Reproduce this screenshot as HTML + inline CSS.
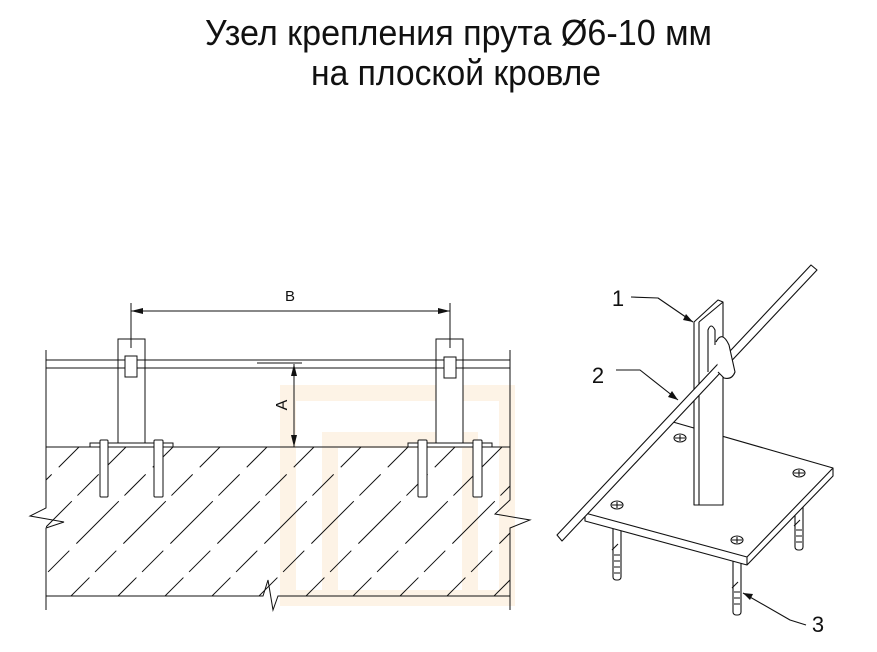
<!DOCTYPE html>
<html><head><meta charset="utf-8"><style>body{margin:0;background:#fff}svg{display:block}</style></head><body>
<svg width="877" height="652" viewBox="0 0 877 652" xmlns="http://www.w3.org/2000/svg" font-family="'Liberation Sans', 'DejaVu Sans', sans-serif">
<rect width="877" height="652" fill="#fff"/>
<text x="205" y="45" font-size="36" textLength="507" lengthAdjust="spacingAndGlyphs" fill="#111">Узел крепления прута Ø6-10 мм</text>
<text x="311" y="85" font-size="36" textLength="290" lengthAdjust="spacingAndGlyphs" fill="#111">на плоской кровле</text>

<!-- watermark -->
<g fill="none" stroke="#fdf3e6" stroke-width="16">
<rect x="288" y="393" width="219" height="205"/>
<path d="M330 598 V440 H470 V598"/>
</g>

<defs>
<clipPath id="slab"><rect x="46" y="447" width="464" height="149"/></clipPath>
<marker id="ar" markerWidth="12" markerHeight="6" refX="12" refY="3" orient="auto-start-reverse" markerUnits="userSpaceOnUse"><path d="M0 0 L12 3 L0 6z" fill="#111"/></marker>
</defs>

<g stroke="#111" stroke-width="1" fill="none">
<g clip-path="url(#slab)" stroke-dasharray="60 8 30 10">
<path d="M0 620 L200 420 M47 620 L247 420 M94 620 L294 420 M141 620 L341 420 M188 620 L388 420 M235 620 L435 420 M282 620 L482 420 M329 620 L529 420 M376 620 L576 420 M423 620 L623 420 M470 620 L670 420 M517 620 L717 420 M-47 620 L153 420 M-94 620 L106 420"/>
</g>
<path d="M46 350 V508 L30 516 L64 522 L46 528 V610"/>
<path d="M510 350 V500 L495 514 L530 520 L510 528 V610"/>
<line x1="46" y1="447" x2="510" y2="447"/>
<path d="M46 596 H263 L268 580 L273 610 L278 596 H510"/>
<line x1="46" y1="360" x2="510" y2="360"/>
<line x1="46" y1="368" x2="510" y2="368"/>
<rect x="118" y="339" width="27" height="108" fill="#fff"/>
<rect x="436" y="339" width="27" height="108" fill="#fff"/>
<line x1="118" y1="360" x2="145" y2="360"/><line x1="118" y1="368" x2="145" y2="368"/>
<line x1="436" y1="360" x2="463" y2="360"/><line x1="436" y1="368" x2="463" y2="368"/>
<rect x="125" y="356" width="12" height="21" fill="#fff"/>
<rect x="444" y="357" width="12" height="21" fill="#fff"/>
<rect x="90" y="443" width="83" height="4" fill="#fff"/>
<rect x="408" y="443" width="84" height="4" fill="#fff"/>
<rect x="100" y="440" width="8" height="57" rx="1" fill="#fff"/>
<rect x="154" y="440" width="9" height="57" rx="1" fill="#fff"/>
<rect x="418" y="440" width="9" height="57" rx="1" fill="#fff"/>
<rect x="473" y="440" width="9" height="57" rx="1" fill="#fff"/>
<line x1="131" y1="303" x2="131" y2="348"/>
<line x1="450" y1="303" x2="450" y2="348"/>
<line x1="131" y1="311" x2="450" y2="311" marker-start="url(#ar)" marker-end="url(#ar)"/>
<line x1="257" y1="363" x2="302" y2="363"/>
<line x1="294" y1="364" x2="294" y2="447" marker-start="url(#ar)" marker-end="url(#ar)"/>
</g>
<text x="290" y="301" font-size="15" text-anchor="middle" fill="#111">B</text>
<text x="0" y="0" font-size="16" text-anchor="middle" fill="#111" transform="translate(287 405) rotate(-90)">A</text>

<g stroke="#111" stroke-width="1.1" fill="#fff" stroke-linejoin="round">
<rect x="613" y="515" width="8" height="65" rx="3"/>
<rect x="733" y="555" width="8" height="60" rx="3"/>
<rect x="795" y="500" width="8" height="50" rx="3"/>
<path fill="none" d="M614 555h6 M614 561h6 M614 567h6 M614 573h6 M734 592h6 M734 598h6 M734 604h6 M796 530h6 M796 536h6 M796 542h6 M612 550l6 -6 M732 588l6 -6 M794 526l6 -6"/>
<path d="M585 513 L673 422 L833 468 L833 476 L747 565 L585 521 Z"/>
<path d="M585 513 L747 557 L833 468 M747 557 V565" fill="none"/>
<ellipse cx="680" cy="438" rx="6" ry="4"/><ellipse cx="799" cy="473" rx="6" ry="4"/>
<ellipse cx="617" cy="505" rx="6" ry="4"/><ellipse cx="737" cy="540" rx="6" ry="4"/>
<path d="M675 438h10M680 435v6M794 473h10M799 470v6M612 505h10M617 502v6M732 540h10M737 537v6" fill="none"/>
<path d="M694 322 L718 300 L723 302 L723 505 L699 505 L694 505 Z"/>
<path d="M699 322 L723 302 M699 322 V505" fill="none"/>
<path d="M708 372 V330 Q711 322 715 330 V345" fill="none"/>
<path d="M557 535 L811 265 L817 270 L562 541 Z"/>
<path d="M716 342 Q722 330 729 345 L735 372 Q732 380 724 378 L718 372" fill="#fff"/>
<path d="M631 297 L658 298 L693 322 M616 370 L640 370 L678 400 M806 625 L790 620 L743 593" fill="none"/>
</g>
<g fill="#111">
<path d="M693 322 l-10 -2 l3 -6z"/>
<path d="M678 400 l-10 -3 l4 -6z"/>
<path d="M743 593 l10 1 l-3 6z"/>
</g>
<text x="618" y="306" font-size="22" text-anchor="middle" fill="#111">1</text>
<text x="598" y="383" font-size="22" text-anchor="middle" fill="#111">2</text>
<text x="818" y="632" font-size="22" text-anchor="middle" fill="#111">3</text>
</svg>
</body></html>
